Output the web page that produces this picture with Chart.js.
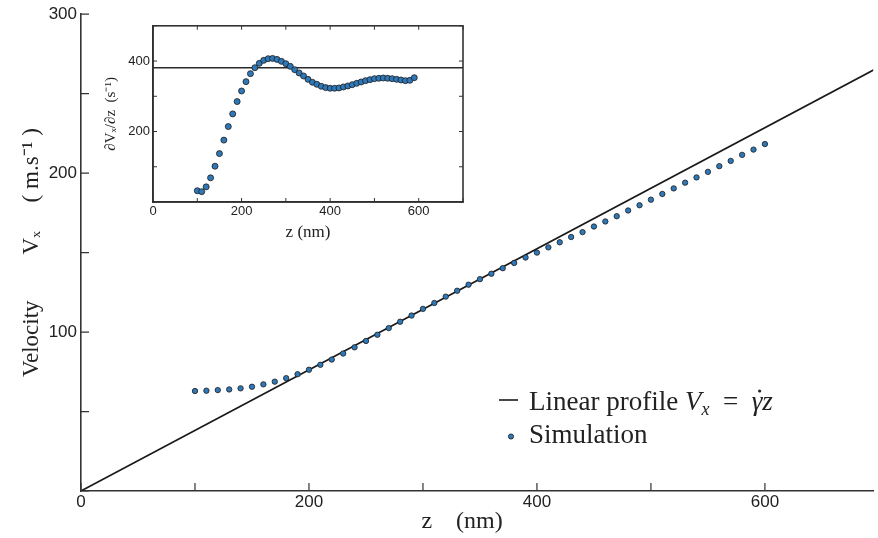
<!DOCTYPE html>
<html><head><meta charset="utf-8">
<script src="https://cdn.jsdelivr.net/npm/chart.js@4.4.1/dist/chart.umd.min.js"></script>
<style>
html,body{margin:0;padding:0;background:#fff;}
#wrap{position:relative;width:878px;height:538px;overflow:hidden;}
#main{position:absolute;left:0;top:0;}
#inset{position:absolute;left:95px;top:15px;}
</style></head><body>
<div id="wrap"><canvas id="main" width="878" height="538"></canvas><canvas id="inset" width="380" height="235"></canvas></div>
<script>
// ---- main panel data ----
const zSim = [100,110,120,130,140,150,160,170,180,190,200,210,220,230,240,250,260,270,280,290,300,310,320,330,340,350,360,370,380,390,400,410,420,430,440,450,460,470,480,490,500,510,520,530,540,550,560,570,580,590,600];
const vSim = [62.9,63.1,63.5,63.9,64.6,65.6,67.1,68.8,71.0,73.5,76.3,79.4,82.7,86.5,90.4,94.4,98.3,102.5,106.5,110.4,114.6,118.3,122.3,126.0,129.8,133.3,136.7,140.2,143.5,146.9,150.0,153.3,156.5,159.8,162.9,166.4,169.6,172.9,176.5,179.8,183.3,186.9,190.4,194.0,197.3,200.8,204.4,207.7,211.5,214.8,218.3];
const zLine = [0, 700];
const vLine = [0, 266.7];
const mainXTicks = [0,100,200,300,400,500,600];
const mainXLabels = [0,200,400,600];
const mainYTicks = [0,50,100,150,200,250,300];
const mainYLabels = [100,200,300];

// ---- inset data ----
const zGrad = [100,110,120,130,140,150,160,170,180,190,200,210,220,230,240,250,260,270,280,290,300,310,320,330,340,350,360,370,380,390,400,410,420,430,440,450,460,470,480,490,500,510,520,530,540,550,560,570,580,590];
const gradSim = [32,29.4,43,68.6,101.6,137.4,175.6,214.2,250,285,315,341.5,364.2,381.1,393.4,401.9,406.6,407.5,404.7,399.1,392.5,384.9,375.5,366,357.6,348.1,339.7,334,328.3,324.6,322.7,322.7,323.6,326.4,329.3,333,336.8,340.6,344.4,347.2,350,351,351.9,351,350,348.1,346.3,344.4,345.3,352.8];
const zGradLine = [0, 700];
const gradLine = [381, 381];
const insetXTicks = [0,100,200,300,400,500,600,700];
const insetXLabels = [0,200,400,600];
const insetYTicks = [0,100,200,300,400,500];
const insetYLabels = [200,400];

const pts = (xs, ys) => xs.map((x, i) => ({x: x, y: ys[i]}));

const inTicks = {
  id: 'inTicks',
  afterDraw(chart, args, o) {
    const {ctx, chartArea: a} = chart;
    const xs = chart.scales.x, ys = chart.scales.y;
    ctx.save();
    ctx.strokeStyle = o.color; ctx.lineWidth = o.width;
    ctx.beginPath();
    xs.ticks.forEach(t => {
      const p = xs.getPixelForValue(t.value);
      ctx.moveTo(p, a.bottom); ctx.lineTo(p, a.bottom - o.len);
      if (o.mirror) { ctx.moveTo(p, a.top); ctx.lineTo(p, a.top + o.len); }
    });
    ys.ticks.forEach(t => {
      const p = ys.getPixelForValue(t.value);
      ctx.moveTo(a.left, p); ctx.lineTo(a.left + o.len, p);
      if (o.mirror) { ctx.moveTo(a.right, p); ctx.lineTo(a.right - o.len, p); }
    });
    ctx.stroke();
    if (o.box) { ctx.lineWidth = o.boxWidth; ctx.strokeRect(a.left, a.top, a.right - a.left, a.bottom - a.top); }
    ctx.restore();
  }
};

const mathLegend = {
  id: 'mathLegend',
  afterDraw(chart) {
    const ctx = chart.ctx;
    ctx.save();
    ctx.fillStyle = '#222';
    ctx.textBaseline = 'alphabetic';
    // line item
    ctx.strokeStyle = '#1a1a1a'; ctx.lineWidth = 1.6;
    ctx.beginPath(); ctx.moveTo(499, 400); ctx.lineTo(518, 400); ctx.stroke();
    let x = 529; const b1 = 410;
    const seg = (txt, font, dy) => { ctx.font = font; ctx.fillText(txt, x, b1 + (dy || 0)); x += ctx.measureText(txt).width; };
    seg('Linear profile ', '27px "Liberation Serif"');
    seg('V', 'italic 27px "Liberation Serif"');
    seg('x', 'italic 18px "Liberation Serif"', 5);
    seg('  =  ', '27px "Liberation Serif"');
    const gx = x;
    seg('γ', 'italic 27px "Liberation Serif"');
    ctx.beginPath(); ctx.arc(gx + 8, b1 - 19, 1.6, 0, Math.PI * 2); ctx.fill();
    seg('z', 'italic 27px "Liberation Serif"');
    // point item
    ctx.beginPath(); ctx.arc(511, 436.5, 2.6, 0, Math.PI * 2);
    ctx.fillStyle = '#2f78b8'; ctx.fill();
    ctx.strokeStyle = '#1c1c1c'; ctx.lineWidth = 0.8; ctx.stroke();
    ctx.fillStyle = '#222';
    ctx.font = '27px "Liberation Serif"';
    ctx.fillText('Simulation', 529, 443);
    ctx.restore();
  }
};

new Chart(document.getElementById('main'), {
  type: 'scatter',
  data: { datasets: [
    { label: 'Linear profile Vx = γ̇z', data: pts(zLine, vLine), showLine: true, borderColor: '#1a1a1a', borderWidth: 1.6, pointRadius: 0, order: 2 },
    { label: 'Simulation', data: pts(zSim, vSim), showLine: false, pointRadius: 2.7, pointBackgroundColor: '#2f78b8', pointBorderColor: '#1c1c1c', pointBorderWidth: 0.8, order: 1 }
  ]},
  options: {
    responsive: false, animation: false, devicePixelRatio: 1,
    layout: { padding: { top: 11, right: 0, left: 0, bottom: 0 } },
    plugins: { legend: { display: false }, tooltip: { enabled: false },
      inTicks: { color: '#333', width: 1.2, len: 8, mirror: false, box: false } },
    scales: {
      x: { type: 'linear', min: 0, max: 695,
        afterBuildTicks: s => { s.ticks = mainXTicks.map(v => ({ value: v })); },
        afterFit: s => { s.height = 47; },
        ticks: { callback: v => mainXLabels.includes(v) ? String(v) : '', font: { family: 'Liberation Sans', size: 17 }, color: '#222', padding: 1, maxRotation: 0, autoSkip: false },
        grid: { display: true, drawOnChartArea: false, drawTicks: false },
        border: { display: true, color: '#333', width: 1.6 },
        title: { display: true, text: 'z    (nm)     ', font: { family: 'Liberation Serif', size: 24 }, color: '#222', padding: { top: 0, bottom: 2 } } },
      y: { type: 'linear', min: 0, max: 300,
        afterBuildTicks: s => { s.ticks = mainYTicks.map(v => ({ value: v })); },
        afterFit: s => { s.width = 81; },
        ticks: { callback: v => mainYLabels.includes(v) ? String(v) : '', font: { family: 'Liberation Sans', size: 17 }, color: '#222', padding: 4, autoSkip: false },
        grid: { display: true, drawOnChartArea: false, drawTicks: false },
        border: { display: true, color: '#333', width: 1.6 },
        title: { display: true, text: 'Velocity        Vₓ     ( m.s⁻¹ )', font: { family: 'Liberation Serif', size: 23 }, color: '#222', padding: { top: 18, bottom: 0 } } }
    }
  },
  plugins: [inTicks, mathLegend]
});

new Chart(document.getElementById('inset'), {
  type: 'scatter',
  data: { datasets: [
    { label: 'mean gradient', data: pts(zGradLine, gradLine), showLine: true, borderColor: '#2a2a2a', borderWidth: 1.6, pointRadius: 0, order: 2 },
    { label: 'gradient', data: pts(zGrad, gradSim), showLine: false, pointRadius: 3, pointBackgroundColor: '#2f78b8', pointBorderColor: '#1c1c1c', pointBorderWidth: 0.8, order: 1 }
  ]},
  options: {
    responsive: false, animation: false, devicePixelRatio: 1,
    layout: { padding: { top: 10, right: 12, left: 0, bottom: 0 } },
    plugins: { legend: { display: false }, tooltip: { enabled: false },
      inTicks: { color: '#333', width: 1, len: 4, mirror: true, box: true, boxWidth: 1.6 } },
    scales: {
      x: { type: 'linear', min: 0, max: 700,
        afterBuildTicks: s => { s.ticks = insetXTicks.map(v => ({ value: v })); },
        afterFit: s => { s.height = 48; },
        ticks: { callback: v => insetXLabels.includes(v) ? String(v) : '', font: { family: 'Liberation Sans', size: 13 }, color: '#222', padding: 2, maxRotation: 0, autoSkip: false },
        grid: { display: true, drawOnChartArea: false, drawTicks: false },
        border: { display: true, color: '#222', width: 1.6 },
        title: { display: true, text: 'z (nm)', font: { family: 'Liberation Serif', size: 17 }, color: '#222', padding: { top: 0, bottom: 7 } } },
      y: { type: 'linear', min: 0, max: 500,
        afterBuildTicks: s => { s.ticks = insetYTicks.map(v => ({ value: v })); },
        afterFit: s => { s.width = 58; },
        ticks: { callback: v => insetYLabels.includes(v) ? String(v) : '', font: { family: 'Liberation Sans', size: 13 }, color: '#222', padding: 3, autoSkip: false },
        grid: { display: true, drawOnChartArea: false, drawTicks: false },
        border: { display: true, color: '#222', width: 1.6 },
        title: { display: true, text: '∂Vₓ/∂z  (s⁻¹)', font: { family: 'Liberation Serif', size: 15 }, color: '#222', padding: { top: 7, bottom: 0 } } }
    }
  },
  plugins: [inTicks]
});
</script>
</body></html>
